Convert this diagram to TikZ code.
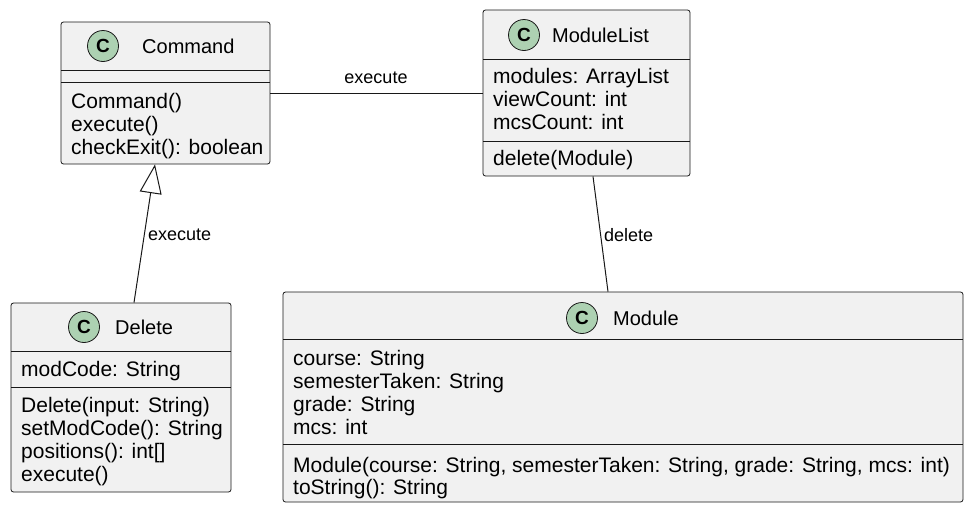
\documentclass[tikz,border=0pt]{standalone}
\usepackage{fontspec}
\setmainfont{Liberation Sans}
\usetikzlibrary{arrows.meta}
\definecolor{boxfill}{HTML}{F1F1F1}
\definecolor{boxline}{HTML}{181818}
\definecolor{spotfill}{HTML}{ADD1B2}
\tikzset{
  classbox/.style={draw=boxline, fill=boxfill, line width=0.8pt, rounded corners=2.5pt, inner sep=0pt},
  sepline/.style={draw=boxline, line width=0.8pt},
  spot/.style={circle, draw=boxline, fill=spotfill, line width=0.8pt, minimum size=31pt, inner sep=0pt, font=\fontsize{19}{19}\selectfont\bfseries},
  classname/.style={anchor=west, inner sep=0pt, font=\fontsize{20}{24}\selectfont},
  member/.style={anchor=base west, inner sep=0pt, font=\fontsize{21}{23}\selectfont},
  rel/.style={draw=boxline, line width=1pt},
  rellabel/.style={inner sep=0pt, font=\fontsize{18}{18}\selectfont}
}
\begin{document}
\begin{tikzpicture}[x=1pt,y=-1pt]
  \fill[white] (0,0) rectangle (972,512);
  \useasboundingbox (0,0) rectangle (972,512);
  % the classes
  \node[classbox, minimum width=209pt, minimum height=142pt] (command) at (165.5,93) {};
  \node[classbox, minimum width=207pt, minimum height=166pt] (modulelist) at (586.5,93) {};
  \node[classbox, minimum width=220pt, minimum height=189pt] (delete) at (121,397.5) {};
  \node[classbox, minimum width=680pt, minimum height=210pt] (module) at (623,397) {};
  % compartments
  \draw[sepline] (61,70) -- (270,70);
  \draw[sepline] (61,82) -- (270,82);
  \draw[sepline] (483,59) -- (690,59);
  \draw[sepline] (483,141) -- (690,141);
  \draw[sepline] (11,351) -- (231,351);
  \draw[sepline] (11,387) -- (231,387);
  \draw[sepline] (283,339) -- (963,339);
  \draw[sepline] (283,444) -- (963,444);
  % headers
  \node[spot] (commandspot) at (103,46) {C};
  \node[classname] (commandname) at (142,46) {Command};
  \node[spot] (modulelistspot) at (524,35) {C};
  \node[classname] (modulelistname) at (552,35) {ModuleList};
  \node[spot] (deletespot) at (84,327) {C};
  \node[classname] (deletename) at (115,327) {Delete};
  \node[spot] (modulespot) at (582,318) {C};
  \node[classname] (modulename) at (613,318) {Module};
  % members
  \foreach \t [count=\i] in {Command(), execute(), {checkExit(): boolean}}
    \node[member] (commandop\i) at (71,{108+23*(\i-1)}) {\t};
  \foreach \t [count=\i] in {{modules: ArrayList}, {viewCount: int}, {mcsCount: int}}
    \node[member] (modulelistattr\i) at (493,{83+23*(\i-1)}) {\t};
  \node[member] (modulelistop1) at (493,165) {delete(Module)};
  \node[member] (deleteattr1) at (21,376) {modCode: String};
  \foreach \t [count=\i] in {{Delete(input: String)}, {setModCode(): String}, {positions(): int[]}, execute()}
    \node[member] (deleteop\i) at (21,{412+23*(\i-1)}) {\t};
  \foreach \t [count=\i] in {{course: String}, {semesterTaken: String}, {grade: String}, {mcs: int}}
    \node[member] (moduleattr\i) at (293,{365+23*(\i-1)}) {\t};
  \foreach \t [count=\i] in {{Module(course: String, semesterTaken: String, grade: String, mcs: int)}, {toString(): String}}
    \node[member] (moduleop\i) at (293,{472+22*(\i-1)}) {\t};
  % relations
  \draw[rel] (command.east) -- (modulelist.west);
  \node[rellabel] (executelabel) at (376,78) {execute};
  \draw[rel, -{Triangle[open, length=29pt, width=22pt]}] ([xshift=13pt]delete.north) -- ([xshift=-10.5pt]command.south);
  \node[rellabel, anchor=west] (inheritlabel) at (148,235) {execute};
  \draw[rel] ([xshift=6.5pt]modulelist.south) -- ([xshift=-15pt]module.north);
  \node[rellabel, anchor=west] (deletelabel) at (604,235) {delete};
\end{tikzpicture}
\end{document}
